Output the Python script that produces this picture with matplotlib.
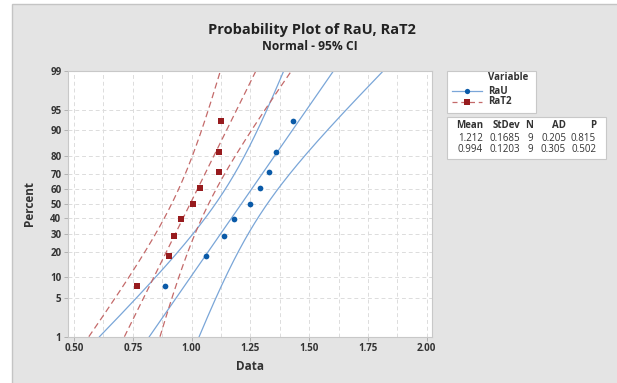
import numpy as np
import matplotlib
matplotlib.use("Agg")
import matplotlib.pyplot as plt
from matplotlib.patches import Rectangle
from matplotlib.lines import Line2D
from statistics import NormalDist

plt.rcParams['font.family'] = ['Open Sans', 'DejaVu Sans']

# data
percent = [7.4, 18.1, 28.7, 39.4, 50.0, 60.6, 71.3, 81.9, 92.6]
rau = [0.888, 1.060, 1.137, 1.182, 1.250, 1.290, 1.330, 1.360, 1.433]
rat2 = [0.768, 0.905, 0.927, 0.953, 1.006, 1.037, 1.118, 1.116, 1.127]

names = ["RaU", "RaT2"]
means = [1.212, 0.994]
stdevs = [0.1685, 0.1203]
ns = [9, 9]
ads = [0.205, 0.305]
pvals = [0.815, 0.502]

pct_ticks = [1, 5, 10, 20, 30, 40, 50, 60, 70, 80, 90, 95, 99]
x_ticks = [0.50, 0.75, 1.00, 1.25, 1.50, 1.75, 2.00]

nd = NormalDist()
z = lambda p: nd.inv_cdf(p / 100.0)

blue_pt, blue_ln = "#0a5aa8", "#7aa6d8"
red_pt, red_ln = "#971b1e", "#c46a6a"
txt = "#333333"

W, H = 617, 383
fig = plt.figure(figsize=(W / 100, H / 100), dpi=100)
fig.patch.set_facecolor("white")
fig.patches.append(Rectangle((12 / W, -0.1), 1.2, 1.1 - 4 / H, transform=fig.transFigure,
                             facecolor="#e4e4e4", edgecolor="#c4c4c4", lw=1, zorder=-10))

ax = fig.add_axes([67.7 / W, 1 - 336.7 / H, 364 / W, 266 / H])
ax.set_facecolor("white")

zz = np.linspace(z(1), z(99), 200)
for vals, m, s, cp, cl, mk, ls in [(rau, means[0], stdevs[0], blue_pt, blue_ln, "o", "-"),
                                   (rat2, means[1], stdevs[1], red_pt, red_ln, "s", (0, (5, 3)))]:
    fit = m + s * zz
    se = s * np.sqrt((1 + zz ** 2 / 2) / 9)
    for xc in (fit, fit - 1.96 * se, fit + 1.96 * se):
        ax.plot(xc, zz, color=cl, lw=0.9, ls=ls, zorder=2)
    ax.scatter(vals, [z(p) for p in percent], color=cp, marker=mk, s=17, zorder=3, lw=0)

ax.set_xlim(0.473, 2.021)
ax.set_ylim(z(1), z(99))
ax.set_yticks([z(p) for p in pct_ticks])
ax.set_yticklabels([str(p) for p in pct_ticks])
ax.set_xticks(x_ticks)
ax.set_xticklabels([f"{v:.2f}" for v in x_ticks])
ax.set_xticks(np.arange(0.625, 2.0, 0.25), minor=True)
ax.tick_params(which="major", length=3, width=0.6, color="#aaaaaa", labelsize=7, labelcolor=txt, pad=1.5)
ax.tick_params(which="minor", length=0)
for lab in ax.get_xticklabels() + ax.get_yticklabels():
    lab.set_fontweight("bold")
ax.grid(True, which="both", axis="x", color="#dcdcdc", ls=(0, (4, 3)), lw=0.7)
ax.grid(True, which="major", axis="y", color="#dcdcdc", ls=(0, (4, 3)), lw=0.7)
ax.set_axisbelow(True)
for sp in ax.spines.values():
    sp.set_color("#c8c8c8")
    sp.set_linewidth(0.8)

ax.set_xlabel("Data", fontsize=8.5, fontweight="bold", color=txt, labelpad=4)
ax.set_ylabel("Percent", fontsize=8.5, fontweight="bold", color=txt, labelpad=10)

fig.text(312 / W, 1 - 30 / H, "Probability Plot of RaU, RaT2", ha="center", va="center",
         fontsize=10.5, fontweight="bold", color="#222222")
fig.text(310 / W, 1 - 47 / H, "Normal - 95% CI", ha="center", va="center",
         fontsize=8.7, fontweight="bold", color="#222222")

# legend box
fig.patches.append(Rectangle((446.5 / W, 1 - 113 / H), 89 / W, 42 / H, transform=fig.transFigure,
                             facecolor="white", edgecolor="#c8c8c8", lw=0.8))
fig.text(488 / W, 1 - 78 / H, "Variable", fontsize=7, fontweight="bold", color=txt, va="center")
for i, (name, cp, cl, mk, ls) in enumerate([(names[0], blue_pt, blue_ln, "o", "-"),
                                             (names[1], red_pt, red_ln, "s", (0, (4, 3)))]):
    yy = 1 - (91 + i * 11) / H
    fig.lines.append(Line2D([452 / W, 482 / W], [yy, yy], transform=fig.transFigure,
                            color=cl, lw=0.9, ls=ls))
    fig.lines.append(Line2D([467 / W], [yy], transform=fig.transFigure, marker=mk,
                            color=cp, ms=3.8, mew=0, ls="none"))
    fig.text(488 / W, yy, name, fontsize=7, fontweight="bold", color=txt, va="center")

# stats table
fig.patches.append(Rectangle((446.5 / W, 1 - 159 / H), 159 / W, 42.5 / H, transform=fig.transFigure,
                             facecolor="white", edgecolor="#c8c8c8", lw=0.8))
col_right = [483, 520, 533, 566, 596]
headers = ["Mean", "StDev", "N", "AD", "P"]
for xr, h in zip(col_right, headers):
    fig.text(xr / W, 1 - 125 / H, h, ha="right", va="center", fontsize=7, fontweight="bold", color=txt)
for i in range(2):
    row = [f"{means[i]:.3f}", f"{stdevs[i]:.4f}", str(ns[i]), f"{ads[i]:.3f}", f"{pvals[i]:.3f}"]
    for xr, v in zip(col_right, row):
        fig.text(xr / W, 1 - (139 + 11 * i) / H, v, ha="right", va="center", fontsize=7, color=txt)

fig.savefig("out.png", dpi=100)
